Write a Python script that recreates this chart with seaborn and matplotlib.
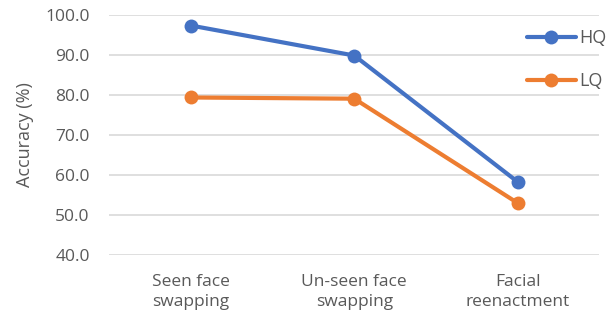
import pandas as pd
import matplotlib
matplotlib.use("Agg")
import matplotlib.pyplot as plt
import seaborn as sns

categories = ["Seen face\nswapping", "Un-seen face\nswapping", "Facial\nreenactment"]
hq = [97.3, 89.8, 58.2]
lq = [79.3, 79.0, 52.9]

df = pd.DataFrame({
    "task": categories * 2,
    "acc": hq + lq,
    "setting": ["HQ"] * 3 + ["LQ"] * 3,
})

sns.set_style("white")
plt.rcParams["font.family"] = ["Open Sans", "DejaVu Sans"]
grey = "#595959"

fig = plt.figure(figsize=(6.14, 3.21), dpi=100)
ax = fig.add_axes([0.178, 0.207, 0.798, 0.747])
sns.lineplot(data=df, x="task", y="acc", hue="setting", sort=False,
             palette=["#4472C4", "#ED7D31"], marker="o", markersize=10,
             markeredgewidth=0, linewidth=3, ax=ax)

ax.set_ylim(40, 100)
ax.set_yticks(range(40, 101, 10))
ax.set_yticklabels([f"{v:.1f}" for v in range(40, 101, 10)])
ax.set_xlim(-0.5, 2.5)
ax.grid(axis="y", color="#d9d9d9", linewidth=1.2)
ax.set_axisbelow(True)
for s in ax.spines.values():
    s.set_visible(False)
ax.tick_params(axis="both", length=0, colors=grey, labelsize=12.5)
ax.tick_params(axis="x", pad=14)
ax.tick_params(axis="y", pad=14)
for lab in ax.get_xticklabels():
    lab.set_linespacing(1.3)
ax.set_xlabel("")
ax.set_ylabel("Accuracy (%)", color=grey, fontsize=13, labelpad=8)

leg = ax.legend(title=None, frameon=False, loc="upper right",
                bbox_to_anchor=(0.988, 0.91), bbox_transform=fig.transFigure,
                fontsize=13, handlelength=2.7, labelspacing=1.4,
                borderaxespad=0, borderpad=0, handletextpad=0.2)
for t in leg.get_texts():
    t.set_color(grey)

fig.savefig("out.png", dpi=100)
